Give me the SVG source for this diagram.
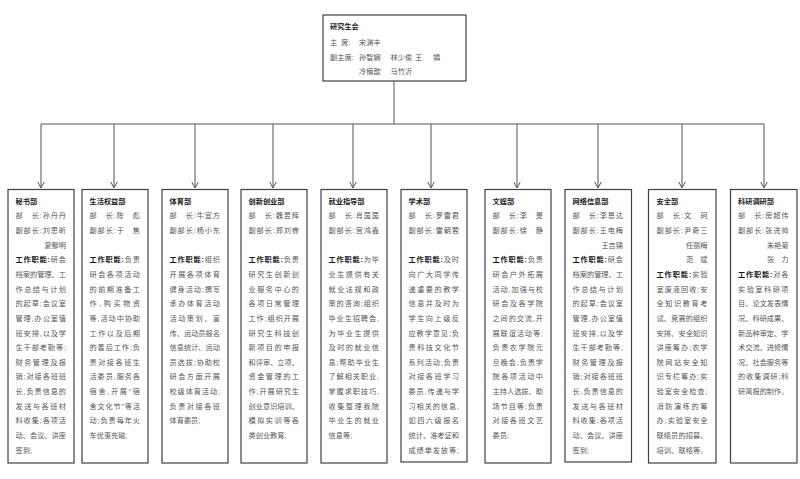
<svg xmlns="http://www.w3.org/2000/svg" width="800" height="479" viewBox="0 0 800 479">
<style>
.bx{fill:#fff;stroke:#404040;stroke-width:1.2}
.t{font-family:"Liberation Sans","Noto Sans CJK SC",sans-serif;font-size:7.2px;fill:#555}
.h{font-weight:bold;fill:#1a1a1a}
.ln{stroke:#555;stroke-width:1;fill:none}
</style>
<defs>
<marker id="arr" markerUnits="userSpaceOnUse" markerWidth="8" markerHeight="8" refX="6.5" refY="3.5" orient="auto" viewBox="0 0 8 8">
<path d="M0,0 L6.5,3.5 L0,7" fill="none" stroke="#555" stroke-width="1"/>
</marker>
</defs>
<rect width="800" height="479" fill="#fff"/>
<g id="connectors" class="ln">
<path d="M394,81 V124 M41,124 H764"/>
<line x1="41" y1="124" x2="41" y2="188" marker-end="url(#arr)"/>
<line x1="114" y1="124" x2="114" y2="188" marker-end="url(#arr)"/>
<line x1="195" y1="124" x2="195" y2="188" marker-end="url(#arr)"/>
<line x1="273" y1="124" x2="273" y2="188" marker-end="url(#arr)"/>
<line x1="353" y1="124" x2="353" y2="188" marker-end="url(#arr)"/>
<line x1="431" y1="124" x2="431" y2="188" marker-end="url(#arr)"/>
<line x1="517" y1="124" x2="517" y2="188" marker-end="url(#arr)"/>
<line x1="598" y1="124" x2="598" y2="188" marker-end="url(#arr)"/>
<line x1="682" y1="124" x2="682" y2="188" marker-end="url(#arr)"/>
<line x1="764" y1="124" x2="764" y2="188" marker-end="url(#arr)"/>
</g>
<g id="top" class="t">
<rect class="bx" x="323" y="15" width="143" height="66"/>
<text x="330" y="29" class="h">研究生会</text>
<text x="330" y="45">主</text><text x="341" y="45">席:</text><text x="359" y="45">宋渊丰</text>
<text x="330" y="59.5">副主席:</text><text x="359" y="59.5">孙智娴</text><text x="390.5" y="59.5">林少俊</text><text x="415" y="59.5">王</text><text x="433" y="59.5">娟</text>
<text x="359" y="74">冷楠歆</text><text x="390.5" y="74">马竹沂</text>
</g>
<g id="d1" class="t">
<rect class="bx" x="8" y="189.5" width="66" height="273.5"/>
<text x="15.5" y="203.6" class="h">秘书部</text>
<text x="15.5" y="218.3" textLength="50.5">部　长:孙丹丹</text>
<text x="15.5" y="232.9" textLength="50.5">副部长:刘思昕</text>
<text x="66" y="247.6" text-anchor="end">夏鄢明</text>
<text x="15.5" y="262.2" textLength="50.5"><tspan class="h">工作职能:</tspan>研会</text>
<text x="15.5" y="276.9" textLength="50.5">档案的管理、工</text>
<text x="15.5" y="291.5" textLength="50.5">作总结与计划</text>
<text x="15.5" y="306.2" textLength="50.5">的起草;会议室</text>
<text x="15.5" y="320.8" textLength="50.5">管理,办公室值</text>
<text x="15.5" y="335.5" textLength="50.5">班安排,以及学</text>
<text x="15.5" y="350.1" textLength="50.5">生干部考勤等;</text>
<text x="15.5" y="364.8" textLength="50.5">财务管理及报</text>
<text x="15.5" y="379.4" textLength="50.5">销;对接各班班</text>
<text x="15.5" y="394.1" textLength="50.5">长,负责信息的</text>
<text x="15.5" y="408.7" textLength="50.5">发送与各班材</text>
<text x="15.5" y="423.4" textLength="50.5">料收集;各项活</text>
<text x="15.5" y="438" textLength="50.5">动、会议、讲座</text>
<text x="15.5" y="452.7">签到;</text>
</g>
<g id="d2" class="t">
<rect class="bx" x="82" y="189.5" width="66" height="273.5"/>
<text x="89.5" y="203.6" class="h">生活权益部</text>
<text x="89.5" y="218.3" textLength="50.5">部　长:陈　彪</text>
<text x="89.5" y="232.9" textLength="50.5">副部长:于　焦</text>
<text x="89.5" y="262.2" textLength="50.5"><tspan class="h">工作职能:</tspan>负责</text>
<text x="89.5" y="276.9" textLength="50.5">研会各项活动</text>
<text x="89.5" y="291.5" textLength="50.5">的前期准备工</text>
<text x="89.5" y="306.2" textLength="50.5">作,购买物资</text>
<text x="89.5" y="320.8" textLength="50.5">等,活动中协助</text>
<text x="89.5" y="335.5" textLength="50.5">工作以及后期</text>
<text x="89.5" y="350.1" textLength="50.5">的善后工作;负</text>
<text x="89.5" y="364.8" textLength="50.5">责对接各班生</text>
<text x="89.5" y="379.4" textLength="50.5">活委员,服务各</text>
<text x="89.5" y="394.1" textLength="50.5">宿舍,开展“宿</text>
<text x="89.5" y="408.7" textLength="50.5">舍文化节”等活</text>
<text x="89.5" y="423.4" textLength="50.5">动;负责每年火</text>
<text x="89.5" y="438">车优惠充磁;</text>
</g>
<g id="d3" class="t">
<rect class="bx" x="162" y="189.5" width="66" height="273.5"/>
<text x="169.5" y="203.6" class="h">体育部</text>
<text x="169.5" y="218.3" textLength="50.5">部　长:牛宜方</text>
<text x="169.5" y="232.9" textLength="50.5">副部长:杨小东</text>
<text x="169.5" y="262.2" textLength="50.5"><tspan class="h">工作职能:</tspan>组织</text>
<text x="169.5" y="276.9" textLength="50.5">开展各项体育</text>
<text x="169.5" y="291.5" textLength="50.5">健身活动;撰写</text>
<text x="169.5" y="306.2" textLength="50.5">承办体育活动</text>
<text x="169.5" y="320.8" textLength="50.5">活动策划、宣</text>
<text x="169.5" y="335.5" textLength="50.5">传、运动员报名</text>
<text x="169.5" y="350.1" textLength="50.5">信息统计、运动</text>
<text x="169.5" y="364.8" textLength="50.5">员选拔;协助校</text>
<text x="169.5" y="379.4" textLength="50.5">研会方面开展</text>
<text x="169.5" y="394.1" textLength="50.5">校级体育活动;</text>
<text x="169.5" y="408.7" textLength="50.5">负责对接各班</text>
<text x="169.5" y="423.4">体育委员;</text>
</g>
<g id="d4" class="t">
<rect class="bx" x="241" y="189.5" width="66" height="273.5"/>
<text x="248.5" y="203.6" class="h">创新创业部</text>
<text x="248.5" y="218.3" textLength="50.5">部　长:魏昱辉</text>
<text x="248.5" y="232.9" textLength="50.5">副部长:郑刘睿</text>
<text x="248.5" y="262.2" textLength="50.5"><tspan class="h">工作职能:</tspan>负责</text>
<text x="248.5" y="276.9" textLength="50.5">研究生创新创</text>
<text x="248.5" y="291.5" textLength="50.5">业服务中心的</text>
<text x="248.5" y="306.2" textLength="50.5">各项日常管理</text>
<text x="248.5" y="320.8" textLength="50.5">工作;组织开展</text>
<text x="248.5" y="335.5" textLength="50.5">研究生科技创</text>
<text x="248.5" y="350.1" textLength="50.5">新项目的申报</text>
<text x="248.5" y="364.8" textLength="50.5">和评审、立项、</text>
<text x="248.5" y="379.4" textLength="50.5">资金管理的工</text>
<text x="248.5" y="394.1" textLength="50.5">作;开展研究生</text>
<text x="248.5" y="408.7" textLength="50.5">创业意识培训、</text>
<text x="248.5" y="423.4" textLength="50.5">模拟实训等各</text>
<text x="248.5" y="438">类创业教育;</text>
</g>
<g id="d5" class="t">
<rect class="bx" x="321" y="189.5" width="66" height="273.5"/>
<text x="328.5" y="203.6" class="h">就业指导部</text>
<text x="328.5" y="218.3" textLength="50.5">部　长:肖茵茵</text>
<text x="328.5" y="232.9" textLength="50.5">副部长:宫鸿鑫</text>
<text x="328.5" y="262.2" textLength="50.5"><tspan class="h">工作职能:</tspan>为毕</text>
<text x="328.5" y="276.9" textLength="50.5">业生提供有关</text>
<text x="328.5" y="291.5" textLength="50.5">就业法规和政</text>
<text x="328.5" y="306.2" textLength="50.5">策的咨询;组织</text>
<text x="328.5" y="320.8" textLength="50.5">毕业生招聘会,</text>
<text x="328.5" y="335.5" textLength="50.5">为毕业生提供</text>
<text x="328.5" y="350.1" textLength="50.5">及时的就业信</text>
<text x="328.5" y="364.8" textLength="50.5">息;帮助毕业生</text>
<text x="328.5" y="379.4" textLength="50.5">了解相关职业,</text>
<text x="328.5" y="394.1" textLength="50.5">掌握求职技巧,</text>
<text x="328.5" y="408.7" textLength="50.5">收集整理我院</text>
<text x="328.5" y="423.4" textLength="50.5">毕业生的就业</text>
<text x="328.5" y="438">信息等;</text>
</g>
<g id="d6" class="t">
<rect class="bx" x="401" y="189.5" width="66" height="272.5"/>
<text x="408.5" y="203.6" class="h">学术部</text>
<text x="408.5" y="218.3" textLength="50.5">部　长:罗雷君</text>
<text x="408.5" y="232.9" textLength="50.5">副部长:雷朝蓉</text>
<text x="408.5" y="262.2" textLength="50.5"><tspan class="h">工作职能:</tspan>及时</text>
<text x="408.5" y="276.9" textLength="50.5">向广大同学传</text>
<text x="408.5" y="291.5" textLength="50.5">递重要的教学</text>
<text x="408.5" y="306.2" textLength="50.5">信息并及时为</text>
<text x="408.5" y="320.8" textLength="50.5">学生向上级反</text>
<text x="408.5" y="335.5" textLength="50.5">应教学意见;负</text>
<text x="408.5" y="350.1" textLength="50.5">责科技文化节</text>
<text x="408.5" y="364.8" textLength="50.5">系列活动;负责</text>
<text x="408.5" y="379.4" textLength="50.5">对接各班学习</text>
<text x="408.5" y="394.1" textLength="50.5">委员,传递与学</text>
<text x="408.5" y="408.7" textLength="50.5">习相关的信息,</text>
<text x="408.5" y="423.4" textLength="50.5">如四六级报名</text>
<text x="408.5" y="438" textLength="50.5">统计、准考证和</text>
<text x="408.5" y="452.7" textLength="50.5">成绩单发放等;</text>
</g>
<g id="d7" class="t">
<rect class="bx" x="485" y="189.5" width="66" height="273.5"/>
<text x="492.5" y="203.6" class="h">文娱部</text>
<text x="492.5" y="218.3" textLength="50.5">部　长:李　旻</text>
<text x="492.5" y="232.9" textLength="50.5">副部长:徐　静</text>
<text x="492.5" y="262.2" textLength="50.5"><tspan class="h">工作职能:</tspan>负责</text>
<text x="492.5" y="276.9" textLength="50.5">研会户外拓展</text>
<text x="492.5" y="291.5" textLength="50.5">活动,加强与校</text>
<text x="492.5" y="306.2" textLength="50.5">研会及各学院</text>
<text x="492.5" y="320.8" textLength="50.5">之间的交流,开</text>
<text x="492.5" y="335.5" textLength="50.5">展联谊活动等;</text>
<text x="492.5" y="350.1" textLength="50.5">负责农学院元</text>
<text x="492.5" y="364.8" textLength="50.5">旦晚会;负责学</text>
<text x="492.5" y="379.4" textLength="50.5">院各项活动中</text>
<text x="492.5" y="394.1" textLength="50.5">主持人选拔、助</text>
<text x="492.5" y="408.7" textLength="50.5">场节目等;负责</text>
<text x="492.5" y="423.4" textLength="50.5">对接各班文艺</text>
<text x="492.5" y="438">委员;</text>
</g>
<g id="d8" class="t">
<rect class="bx" x="565" y="189.5" width="66.5" height="272.5"/>
<text x="572.5" y="203.6" class="h">网络信息部</text>
<text x="572.5" y="218.3" textLength="50.5">部　长:李恩达</text>
<text x="572.5" y="232.9" textLength="50.5">副部长:王电梅</text>
<text x="623" y="247.6" text-anchor="end">王吉锦</text>
<text x="572.5" y="262.2" textLength="50.5"><tspan class="h">工作职能:</tspan>研会</text>
<text x="572.5" y="276.9" textLength="50.5">档案的管理、工</text>
<text x="572.5" y="291.5" textLength="50.5">作总结与计划</text>
<text x="572.5" y="306.2" textLength="50.5">的起草;会议室</text>
<text x="572.5" y="320.8" textLength="50.5">管理,办公室值</text>
<text x="572.5" y="335.5" textLength="50.5">班安排,以及学</text>
<text x="572.5" y="350.1" textLength="50.5">生干部考勤等;</text>
<text x="572.5" y="364.8" textLength="50.5">财务管理及报</text>
<text x="572.5" y="379.4" textLength="50.5">销;对接各班班</text>
<text x="572.5" y="394.1" textLength="50.5">长,负责信息的</text>
<text x="572.5" y="408.7" textLength="50.5">发送与各班材</text>
<text x="572.5" y="423.4" textLength="50.5">料收集;各项活</text>
<text x="572.5" y="438" textLength="50.5">动、会议、讲座</text>
<text x="572.5" y="452.7">签到;</text>
</g>
<g id="d9" class="t">
<rect class="bx" x="648.5" y="189.5" width="67.5" height="273.5"/>
<text x="656.5" y="203.6" class="h">安全部</text>
<text x="656.5" y="218.3" textLength="51">部　长:文　珂</text>
<text x="656.5" y="232.9" textLength="51">副部长:尹奇三</text>
<text x="707.5" y="247.6" text-anchor="end">任丽梅</text>
<text x="707.5" y="262.2" text-anchor="end">范　斌</text>
<text x="656.5" y="276.9" textLength="51"><tspan class="h">工作职能:</tspan>实验</text>
<text x="656.5" y="291.5" textLength="51">室废液回收;安</text>
<text x="656.5" y="306.2" textLength="51">全知识教育考</text>
<text x="656.5" y="320.8" textLength="51">试、竞赛的组织</text>
<text x="656.5" y="335.5" textLength="51">安排、安全知识</text>
<text x="656.5" y="350.1" textLength="51">讲座筹办;农学</text>
<text x="656.5" y="364.8" textLength="51">院网站安全知</text>
<text x="656.5" y="379.4" textLength="51">识专栏筹办;实</text>
<text x="656.5" y="394.1" textLength="51">验室安全检查;</text>
<text x="656.5" y="408.7" textLength="51">消防演练的筹</text>
<text x="656.5" y="423.4" textLength="51">办;实验室安全</text>
<text x="656.5" y="438" textLength="51">联络员的招募、</text>
<text x="656.5" y="452.7" textLength="51">培训、联络等。</text>
</g>
<g id="d10" class="t">
<rect class="bx" x="730.5" y="189.5" width="66.5" height="273.5"/>
<text x="738" y="203.6" class="h">科研调研部</text>
<text x="738" y="218.3" textLength="50.5">部　长:房超伟</text>
<text x="738" y="232.9" textLength="50.5">副部长:张进帅</text>
<text x="788.5" y="247.6" text-anchor="end">朱艳菊</text>
<text x="788.5" y="262.2" text-anchor="end">张　力</text>
<text x="738" y="276.9" textLength="50.5"><tspan class="h">工作职能:</tspan>对各</text>
<text x="738" y="291.5" textLength="50.5">实验室科研项</text>
<text x="738" y="306.2" textLength="50.5">目、论文发表情</text>
<text x="738" y="320.8" textLength="50.5">况、科研成果、</text>
<text x="738" y="335.5" textLength="50.5">新品种审定、学</text>
<text x="738" y="350.1" textLength="50.5">术交流、进修情</text>
<text x="738" y="364.8" textLength="50.5">况、社会服务等</text>
<text x="738" y="379.4" textLength="50.5">的收集调研;科</text>
<text x="738" y="394.1" textLength="50.5">研简报的制作。</text>
</g>
</svg>
